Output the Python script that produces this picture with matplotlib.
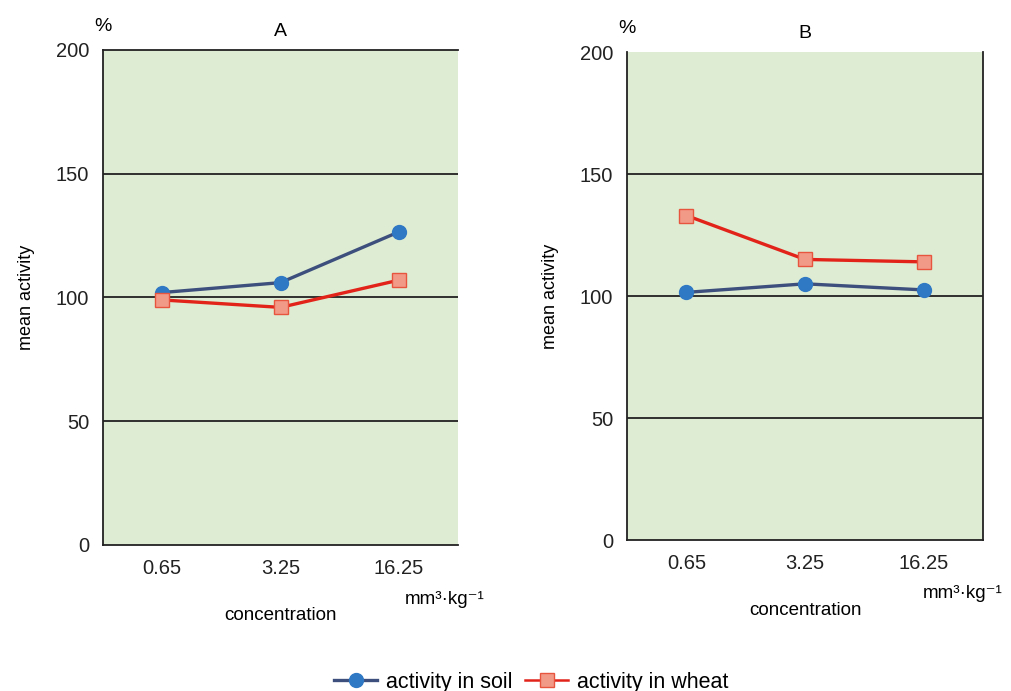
import matplotlib.pyplot as plt
from matplotlib.lines import Line2D

plt.rcParams['font.family'] = ['Liberation Sans', 'DejaVu Sans']

conc = ['0.65', '3.25', '16.25']
soil_a = [102, 106, 126.5]
wheat_a = [99, 96, 107]
soil_b = [101.5, 105, 102.5]
wheat_b = [133, 115, 114]
yticks = [0, 50, 100, 150, 200]

bg = '#ddecd3'
blue_line = '#3d4f7c'
blue_mark = '#2f78c4'
red_line = '#e2231a'
red_face = '#f29a88'
red_edge = '#e8553f'

fig = plt.figure(figsize=(10.12, 6.91), dpi=100)
ax1 = fig.add_axes([0.1018, 0.2113, 0.3508, 0.7164])
ax2 = fig.add_axes([0.6196, 0.2185, 0.3518, 0.7062])


def draw(ax, soil, wheat, title, top, right, unit_x):
    x = range(len(conc))
    ax.set_facecolor(bg)
    ax.plot(x, soil, color=blue_line, lw=2.4, marker='o', ms=10,
            mfc=blue_mark, mec=blue_mark, zorder=3)
    ax.plot(x, wheat, color=red_line, lw=2.4, marker='s', ms=10.5,
            mfc=red_face, mec=red_edge, zorder=3)
    ax.set_xlim(-0.5, 2.5)
    ax.set_ylim(0, 200)
    ax.set_yticks(yticks)
    ax.set_xticks(list(x))
    ax.set_xticklabels(conc)
    ax.tick_params(length=0, labelsize=14.5, colors='#222222', pad=10)
    for v in yticks[1:-1]:
        ax.axhline(v, color='#222222', lw=1.3, zorder=1)
    for s in ax.spines.values():
        s.set_color('#222222')
        s.set_linewidth(1.3)
    ax.spines['top'].set_visible(top)
    ax.spines['right'].set_visible(right)
    ax.set_ylabel('mean activity', fontsize=13, labelpad=15)
    ax.set_xlabel('concentration', fontsize=13.5, labelpad=21)
    ax.text(0.5, 1.02, title, transform=ax.transAxes, ha='center',
            va='bottom', fontsize=14)
    ax.text(0.0, 1.03, '%', transform=ax.transAxes, ha='center',
            va='bottom', fontsize=14)
    ax.text(unit_x, -0.11, 'mm³·kg⁻¹', transform=ax.transAxes,
            ha='center', va='center', fontsize=13.5)


draw(ax1, soil_a, wheat_a, 'A', True, False, 0.963)
draw(ax2, soil_b, wheat_b, 'B', False, True, 0.944)

handles = [
    Line2D([], [], color=blue_line, lw=2.4, marker='o', ms=10,
           mfc=blue_mark, mec=blue_mark),
    Line2D([], [], color=red_line, lw=1.8, marker='s', ms=10.5,
           mfc=red_face, mec=red_edge),
]
fig.legend(handles, ['activity in soil', 'activity in wheat'],
           loc='center', bbox_to_anchor=(0.525, 0.013), ncol=2,
           frameon=False, fontsize=15.5, handlelength=2.0,
           columnspacing=0.6, handletextpad=0.4)

fig.savefig('out.png', dpi=100)
